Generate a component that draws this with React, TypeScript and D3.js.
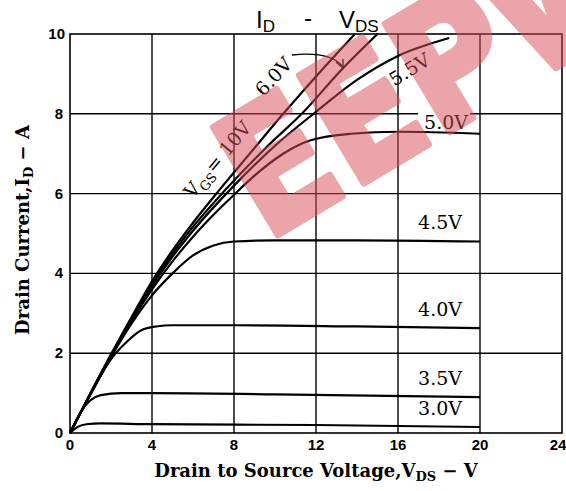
import React from "react";
import * as d3 from "d3";

// I_D - V_DS output characteristics
const xTicks = [0, 4, 8, 12, 16, 20, 24];
const yTicks = [0, 2, 4, 6, 8, 10];

const curve3V0 = [[0, 0], [0.4, 0.16], [0.8, 0.22], [1.5, 0.24], [4, 0.22], [12, 0.2], [20, 0.15]];
const curve3V5 = [[0, 0], [0.5, 0.5], [1, 0.82], [1.5, 0.95], [2.5, 1.0], [4, 1.0], [10, 0.97], [20, 0.9]];
const curve4V0 = [[0, 0], [0.5, 0.5], [1, 0.97], [2, 1.85], [2.8, 2.3], [3.5, 2.58], [4.2, 2.67], [5, 2.7], [8, 2.7], [14, 2.67], [20, 2.63]];
const curve4V5 = [[0, 0], [1, 0.97], [2, 1.9], [3, 2.74], [4, 3.45], [5, 4.0], [6, 4.45], [7, 4.7], [8, 4.8], [10, 4.83], [14, 4.83], [20, 4.8]];
const curve5V0 = [[0, 0], [1, 0.98], [2, 1.92], [3, 2.8], [4, 3.6], [5, 4.3], [6, 4.92], [7, 5.47], [8, 5.97], [9, 6.45], [10.4, 7.0], [11.7, 7.33], [13.7, 7.5], [16, 7.55], [20, 7.5]];
const curve5V5 = [[0, 0], [1, 0.99], [2, 1.94], [3, 2.84], [4, 3.68], [5, 4.42], [6, 5.07], [8, 6.2], [10, 7.2], [12, 8.05], [14, 8.85], [16, 9.45], [18.5, 9.9]];
const curve6V0 = [[0, 0], [1, 0.99], [2, 1.95], [3, 2.87], [4, 3.74], [5, 4.5], [6, 5.17], [7.5, 6.05], [9.5, 7.12], [11.4, 8.05], [13.2, 9.08], [15.0, 10]];
const curve10V = [[0, 0], [1, 1.0], [2, 1.97], [3, 2.9], [4, 3.8], [5, 4.58], [6, 5.27], [7.3, 6.1], [8.8, 7.02], [10.4, 8.0], [12.2, 9.05], [13.9, 10]];

const curves = [curve3V0, curve3V5, curve4V0, curve4V5, curve5V0, curve5V5, curve6V0, curve10V];

const flatLabels = [
  { text: "3.0V", v: 0.15 },
  { text: "3.5V", v: 0.9 },
  { text: "4.0V", v: 2.63 },
  { text: "4.5V", v: 4.8 },
];

export default function App() {
  const width = 566;
  const height = 491;
  const x = d3.scaleLinear().domain([0, 24]).range([70, 562]);
  const y = d3.scaleLinear().domain([0, 10]).range([433, 34]);
  const line = d3.line<number[]>()
    .x(d => x(d[0]))
    .y(d => y(d[1]))
    .curve(d3.curveMonotoneX);

  const serif = "'DejaVu Serif', 'Liberation Serif', serif";
  const sans = "'Liberation Sans', Arial, sans-serif";
  const wmColor = "rgb(216,78,88)";

  return (
    <svg width={width} height={height} style={{ position: "absolute", left: 0, top: 0, background: "#fff" }}>
      {/* grid */}
      {xTicks.slice(1, -1).map(t => (
        <line key={"gx" + t} x1={x(t)} x2={x(t)} y1={y(0)} y2={y(10)} stroke="#000" strokeWidth={1.4} />
      ))}
      {yTicks.slice(1, -1).map(t => (
        <line key={"gy" + t} x1={x(0)} x2={x(24)} y1={y(t)} y2={y(t)} stroke="#000" strokeWidth={1.4} />
      ))}
      <rect x={x(0)} y={y(10)} width={x(24) - x(0)} height={y(0) - y(10)} fill="none" stroke="#000" strokeWidth={1.6} />

      {/* tick labels */}
      {xTicks.map(t => (
        <text key={"tx" + t} x={t === 24 ? x(t) - 4 : x(t)} y={450} textAnchor="middle" fontFamily={sans} fontWeight="bold" fontSize={15}>{t}</text>
      ))}
      {yTicks.map(t => (
        <text key={"ty" + t} x={t === 10 ? 65 : 63} y={y(t) + 5} textAnchor="end" fontFamily={sans} fontWeight="bold" fontSize={15}>{t}</text>
      ))}

      {/* white gap behind 5.0V label on the 8A line */}
      <rect x={418} y={y(8) - 14} width={52} height={20} fill="#fff" />

      {/* curves */}
      {curves.map((c, i) => (
        <path key={"c" + i} d={line(c) || ""} fill="none" stroke="#000" strokeWidth={2.2} />
      ))}

      {/* curve labels */}
      {flatLabels.map(l => (
        <text key={l.text} x={462} y={y(l.v) - 12} textAnchor="end" fontFamily={serif} fontSize={19}>{l.text}</text>
      ))}
      <text x={468} y={y(7.5) - 5} textAnchor="end" fontFamily={serif} fontSize={19}>5.0V</text>
      <text x={410} y={76} textAnchor="middle" fontFamily={serif} fontSize={19} transform="rotate(-32 410 70)">5.5V</text>
      <text x={274} y={83} textAnchor="middle" fontFamily={serif} fontSize={19} transform="rotate(-47 274 77)">6.0V</text>
      <text x={218} y={166} textAnchor="middle" fontFamily={serif} fontSize={19} transform="rotate(-50 218 160)">
        V<tspan fontSize={13} dy={5}>GS</tspan><tspan dy={-5}>= 10V</tspan>
      </text>
      <path d="M292,55 Q330,51 342,66" fill="none" stroke="#000" strokeWidth={1.3} />
      <path d="M336,62 L343,68 L343,59" fill="none" stroke="#000" strokeWidth={1.3} />

      {/* title */}
      <text x={256} y={28} fontFamily={sans} fontSize={24}>
        I<tspan fontSize={17} dy={4}>D</tspan>
      </text>
      <text x={308} y={26} textAnchor="middle" fontFamily={sans} fontSize={24}>-</text>
      <text x={339} y={28} fontFamily={sans} fontSize={24}>
        V<tspan fontSize={17} dy={4}>DS</tspan>
      </text>

      {/* axis titles */}
      <text x={316} y={477} textAnchor="middle" fontFamily={serif} fontWeight="bold" fontSize={18}>
        Drain to Source Voltage,V<tspan fontSize={13} dy={4}>DS</tspan><tspan dy={-4}>{" \u2212 V"}</tspan>
      </text>
      <text transform="translate(29,230) rotate(-90)" textAnchor="middle" fontFamily={serif} fontWeight="bold" fontSize={18}>
        Drain Current,I<tspan fontSize={13} dy={4}>D</tspan><tspan dy={-4}>{" \u2212 A"}</tspan>
      </text>

      {/* watermark */}
      <text x={266} y={242} transform="rotate(-31 266 242)" fontFamily="'DejaVu Sans', sans-serif" fontWeight="bold"
        fontSize={172} textLength={470} lengthAdjust="spacingAndGlyphs"
        fill={wmColor} stroke={wmColor} strokeWidth={7} strokeLinejoin="round" opacity={0.51}>EEPW</text>
    </svg>
  );
}
